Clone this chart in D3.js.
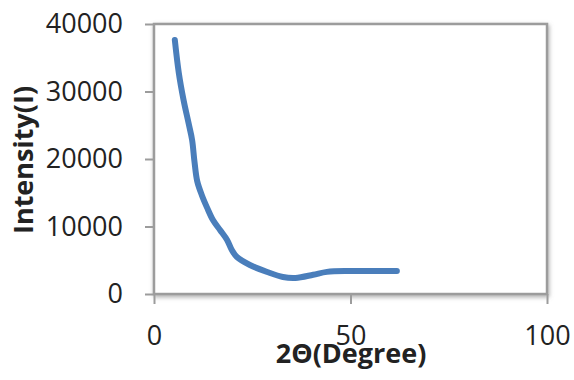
<!DOCTYPE html>
<meta charset="utf-8">
<style>
  body {
    margin: 0;
    background: #fff;
  }

  text {
    font-family: 'Open Sans', 'DejaVu Sans', sans-serif;
    fill: #222;
  }

  .frame {
    fill: #fff;
    stroke: #9c9c9c;
    stroke-width: 2.5;
  }

  .axis path {
    stroke: none;
  }

  .axis line {
    stroke: #9c9c9c;
    stroke-width: 2;
  }

  .axis text {
    font-size: 27px;
  }

  .title {
    font-size: 27px;
    font-weight: bold;
  }

  .curve {
    fill: none;
    stroke: #4a7ebb;
    stroke-width: 6;
    stroke-linecap: round;
    stroke-linejoin: round;
  }
</style>
<body>
<script src="https://cdn.jsdelivr.net/npm/d3@7"></script>
<script>

// 2theta (degree)
var twoTheta = [5.3, 6.3, 7.5, 8.8, 9.7, 10.3, 11.0, 12.2, 13.5, 15.0, 16.8, 18.6,
                19.8, 21.1, 24.4, 28.8, 32.8, 36.0, 40.5, 44.0, 49.9, 56.2, 61.8];
// intensity (I)
var intensity = [37630, 32800, 28800, 25300, 22800, 19600, 16700, 14600, 12800, 10960, 9480, 8000,
                 6520, 5480, 4300, 3260, 2520, 2380, 2850, 3280, 3400, 3400, 3400];

var xTicks = [0, 50, 100];
var yTicks = [0, 10000, 20000, 30000, 40000];

// set the dimensions and margins of the graph
var margin = {top: 24, right: 27, bottom: 86, left: 154},
    width = 574 - margin.left - margin.right,
    height = 380 - margin.top - margin.bottom;

var x = d3.scaleLinear().domain([0, 100]).range([0, width]);
var y = d3.scaleLinear().domain([0, 40000]).range([height, 0]);

var svg = d3.select("body").append("svg")
    .attr("width", 574)
    .attr("height", 380);

// soft shadow round the plot area, like the spreadsheet chart
var filt = svg.append("defs").append("filter")
    .attr("id", "shadow")
    .attr("x", "-10%").attr("y", "-10%")
    .attr("width", "120%").attr("height", "120%");
filt.append("feDropShadow")
    .attr("dx", 1).attr("dy", 2)
    .attr("stdDeviation", 2)
    .attr("flood-color", "#777")
    .attr("flood-opacity", 0.6);

var g = svg.append("g")
    .attr("transform", "translate(" + margin.left + "," + margin.top + ")");

g.append("rect")
    .attr("class", "frame")
    .attr("width", width)
    .attr("height", height)
    .attr("filter", "url(#shadow)");

// axes
g.append("g")
    .attr("class", "axis")
    .call(d3.axisLeft(y).tickValues(yTicks).tickSize(9).tickPadding(22).tickFormat(d3.format("d")));

g.append("g")
    .attr("class", "axis")
    .attr("transform", "translate(0," + height + ")")
    .call(d3.axisBottom(x).tickValues(xTicks).tickSize(10).tickPadding(22));

// data line
var data = twoTheta.map(function(d, i) { return {x: d, y: intensity[i]}; });

var line = d3.line()
    .x(function(d) { return x(d.x); })
    .y(function(d) { return y(d.y); })
    .curve(d3.curveCatmullRom.alpha(0.5));

g.append("path")
    .datum(data)
    .attr("class", "curve")
    .attr("d", line);

// axis titles
svg.append("text")
    .attr("class", "title")
    .attr("x", 351)
    .attr("y", 363)
    .attr("text-anchor", "middle")
    .text("2\u0398(Degree)");

svg.append("text")
    .attr("class", "title")
    .attr("transform", "translate(33,160) rotate(-90)")
    .attr("text-anchor", "middle")
    .text("Intensity(I)");

</script>
</body>
